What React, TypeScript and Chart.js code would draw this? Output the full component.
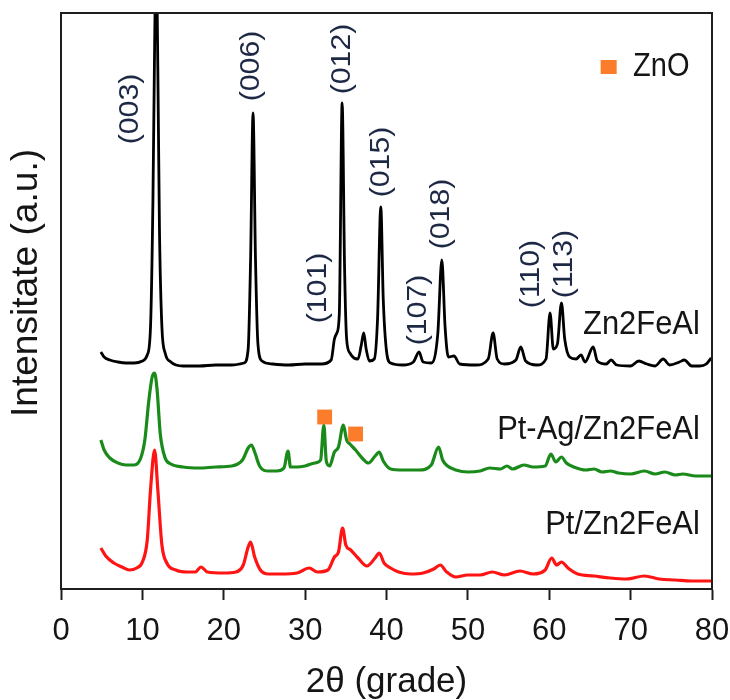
import React, { useEffect, useRef } from "react";
import { Chart, registerables } from "chart.js";

Chart.register(...registerables);

// 2θ (degrees) and intensity (a.u.), per pattern
const zn2FeAlPattern: [number, number][] = [
  [4.9, 237], [5.3, 232], [6, 229], [7, 227], [8, 226], [9, 226], [10, 228], [10.6, 234],
  [11.0, 262], [11.3, 390], [11.5, 540], [11.7, 640], [11.9, 520], [12.1, 360], [12.4, 262],
  [12.8, 236], [13.5, 227], [15, 223], [17, 223], [19, 224], [21, 224], [22.5, 226],
  [23.0, 240], [23.3, 330], [23.6, 476], [23.9, 330], [24.2, 245], [24.7, 228], [26, 225],
  [28, 224], [30, 225], [32, 225], [33.2, 229], [33.6, 250], [33.9, 256], [34.2, 275],
  [34.55, 486], [34.85, 320], [35.1, 250], [35.5, 236], [36.0, 231], [36.5, 230], [36.9, 244],
  [37.2, 256], [37.5, 240], [37.9, 228], [38.5, 230], [38.9, 270], [39.3, 382], [39.6, 290],
  [40.0, 238], [40.5, 226], [42, 224], [43.3, 227], [44.0, 237], [44.5, 227], [45.5, 226],
  [46.3, 255], [46.8, 329], [47.2, 262], [47.6, 232], [48.3, 233], [49, 225], [51, 224],
  [52.5, 230], [53.1, 256], [53.6, 230], [54.5, 225], [55.9, 229], [56.5, 242], [57.1, 228],
  [58.5, 224], [59.6, 230], [60.1, 276], [60.5, 240], [61.0, 245], [61.5, 286], [61.9, 250],
  [62.5, 232], [63.3, 230], [63.9, 234], [64.4, 227], [65.4, 242], [65.9, 228], [67.0, 225],
  [67.6, 229], [68.3, 224], [70, 223], [71.0, 228], [72, 225], [73, 223], [74.0, 230],
  [74.8, 224], [76.0, 227], [76.6, 229], [77.5, 223], [78.5, 223], [79.3, 225], [79.9, 231],
];

const ptAgPattern: [number, number][] = [
  [4.9, 149], [5.3, 139], [6.0, 131], [7.0, 126], [8.0, 124], [9.0, 124], [9.8, 131],
  [10.3, 149], [10.8, 189], [11.2, 212], [11.5, 216], [11.8, 200], [12.2, 155], [12.8, 131],
  [13.5, 125], [15, 122], [17, 121], [19, 122], [21, 123], [22.3, 129], [23.0, 141],
  [23.4, 144], [23.8, 137], [24.4, 123], [25.5, 118], [26.5, 118], [27.4, 121], [27.9, 138],
  [28.2, 122], [29, 122], [30, 123], [31.2, 126], [31.9, 129], [32.3, 164], [32.6, 128],
  [33.0, 123], [33.6, 137], [34.1, 142], [34.7, 164], [35.1, 149], [35.5, 145], [36.2, 139],
  [37.0, 131], [37.8, 126], [38.6, 133], [39.1, 137], [39.6, 128], [40.5, 120], [42, 119],
  [44, 119], [45.5, 124], [46.4, 142], [46.9, 129], [47.5, 123], [48.5, 119], [50, 117],
  [51.5, 118], [52.7, 121], [54, 120], [54.8, 123], [55.5, 120], [56.9, 124], [58, 122],
  [59.5, 123], [60.2, 135], [60.8, 127], [61.5, 132], [62.1, 126], [63, 122], [64.5, 119],
  [65.5, 120], [66.5, 117], [67.5, 118], [68.5, 116], [70, 115], [71.7, 118], [73, 115],
  [74.2, 117], [75.5, 114], [76.4, 115], [78, 113], [79.9, 113],
];

const ptPattern: [number, number][] = [
  [4.9, 41], [5.5, 33], [6.5, 26], [7.5, 22], [8.4, 19], [9.3, 21], [10.0, 27], [10.6, 49],
  [11.0, 99], [11.5, 139], [11.9, 99], [12.4, 44], [13.0, 26], [14.1, 19], [15.5, 17],
  [16.5, 17], [17.2, 22], [18, 17], [20, 16], [21.5, 17], [22.4, 24], [23.0, 42], [23.3, 47],
  [23.8, 32], [24.5, 19], [25.5, 15], [27, 15], [29, 16], [30.5, 21], [31.5, 17], [32.8, 19],
  [33.6, 32], [34.1, 37], [34.6, 61], [35.0, 44], [35.6, 39], [36.5, 31], [37.6, 23],
  [38.6, 31], [39.1, 36], [39.7, 26], [40.5, 21], [41.5, 17], [43, 15], [44.5, 16],
  [45.8, 20], [46.6, 24], [47.4, 17], [48.5, 12], [50, 14], [51.5, 14], [53.0, 17],
  [54.5, 14], [56.4, 18], [58, 15], [59.5, 19], [60.3, 31], [60.9, 24], [61.5, 27],
  [62.3, 21], [63.5, 15], [65.5, 13], [67.5, 11], [69.5, 10], [71.7, 13], [73.5, 10],
  [75.5, 9], [77.5, 8], [79.9, 8],
];

// ZnO reflections marked on the Pt-Ag/Zn2FeAl pattern
const znoMarkTheta = [32.4, 36.2];
const znoMarkLevel = [172, 155];

// Miller-index labels (rotated) above the Zn2FeAl peaks
const peakLabels = ["(003)", "(006)", "(012)", "(015)", "(101)", "(107)", "(018)", "(110)", "(113)"];
const peakLabelTheta = [8.5, 23.4, 34.6, 39.4, 31.6, 43.9, 46.8, 57.8, 61.9];
const peakLabelLevel = [480, 523, 530, 427, 301, 279, 375, 315, 325];

// Sample names, right-aligned next to each pattern
const sampleNames = ["Zn2FeAl", "Pt-Ag/Zn2FeAl", "Pt/Zn2FeAl"];
const sampleNameLevel = [264, 159, 64];

const xTicks = [0, 10, 20, 30, 40, 50, 60, 70, 80];

const FONT = '"Liberation Sans", Arial, sans-serif';
const AXIS_COLOR = "#1e1e1e";
const TEXT_COLOR = "#151515";
const LABEL_COLOR = "#1d2844";
const ORANGE = "#fb7d2c";
const STRETCH = 1.12;

const textPlugin = {
  id: "xrdText",
  afterDatasetsDraw(chart: any) {
    const { ctx, chartArea, scales } = chart;
    const xs = scales.x;
    const ys = scales.y;
    ctx.save();
    // top and right frame
    ctx.strokeStyle = AXIS_COLOR;
    ctx.lineWidth = 2;
    ctx.beginPath();
    ctx.moveTo(chartArea.left, chartArea.top);
    ctx.lineTo(chartArea.right, chartArea.top);
    ctx.lineTo(chartArea.right, chartArea.bottom);
    ctx.stroke();

    // peak labels (rotated)
    ctx.font = `27px ${FONT}`;
    ctx.fillStyle = LABEL_COLOR;
    ctx.textAlign = "center";
    ctx.textBaseline = "middle";
    peakLabels.forEach((t, i) => {
      const px = xs.getPixelForValue(peakLabelTheta[i]);
      const py = ys.getPixelForValue(peakLabelLevel[i]);
      ctx.save();
      ctx.translate(px, py);
      ctx.rotate(-Math.PI / 2);
      ctx.scale(STRETCH, 1);
      ctx.fillText(t, 0, 0);
      ctx.restore();
    });

    // sample names
    ctx.font = `30px ${FONT}`;
    ctx.fillStyle = TEXT_COLOR;
    ctx.textAlign = "right";
    sampleNames.forEach((t, i) => {
      ctx.save();
      ctx.translate(xs.getPixelForValue(78.5), ys.getPixelForValue(sampleNameLevel[i]));
      ctx.scale(1.03, STRETCH);
      ctx.fillText(t, 0, 0);
      ctx.restore();
    });

    // legend
    const lx = xs.getPixelForValue(67.3);
    const ly = ys.getPixelForValue(522);
    ctx.fillStyle = ORANGE;
    ctx.fillRect(lx - 8, ly - 7, 16, 14);
    ctx.fillStyle = TEXT_COLOR;
    ctx.font = `29px ${FONT}`;
    ctx.textAlign = "left";
    ctx.save();
    ctx.translate(xs.getPixelForValue(70.3), ly);
    ctx.scale(1, STRETCH);
    ctx.fillText("ZnO", 0, 0);
    ctx.restore();

    // y-axis title
    ctx.font = `35px ${FONT}`;
    ctx.textAlign = "center";
    ctx.save();
    ctx.translate(27, (chartArea.top + chartArea.bottom) / 2 - 18);
    ctx.rotate(-Math.PI / 2);
    ctx.scale(1.06, 1.05);
    ctx.fillText("Intensitate (a.u.)", 0, 0);
    ctx.restore();
    ctx.restore();
  },
};

export default function App() {
  const canvasRef = useRef<HTMLCanvasElement | null>(null);

  useEffect(() => {
    const canvas = canvasRef.current;
    if (!canvas) return;
    const toPts = (p: [number, number][]) => p.map(([x, y]) => ({ x, y }));
    const chart = new Chart(canvas, {
      type: "scatter",
      data: {
        datasets: [
          {
            label: "ZnO",
            data: znoMarkTheta.map((x, i) => ({ x, y: znoMarkLevel[i] })),
            showLine: false,
            pointStyle: "rect",
            pointRadius: 10.5,
            pointBackgroundColor: ORANGE,
            pointBorderWidth: 0,
            order: 0,
          },
          {
            label: "Zn2FeAl",
            data: toPts(zn2FeAlPattern),
            showLine: true,
            borderColor: "#000000",
            borderWidth: 2.8,
            pointRadius: 0,
            cubicInterpolationMode: "monotone",
            order: 1,
          },
          {
            label: "Pt-Ag/Zn2FeAl",
            data: toPts(ptAgPattern),
            showLine: true,
            borderColor: "#1a8a1a",
            borderWidth: 3.2,
            pointRadius: 0,
            cubicInterpolationMode: "monotone",
            order: 2,
          },
          {
            label: "Pt/Zn2FeAl",
            data: toPts(ptPattern),
            showLine: true,
            borderColor: "#ff1414",
            borderWidth: 3.2,
            pointRadius: 0,
            cubicInterpolationMode: "monotone",
            order: 3,
          },
        ],
      },
      options: {
        responsive: false,
        animation: false,
        layout: { padding: { top: 13, right: 18, left: 0, bottom: 0 } },
        plugins: { legend: { display: false }, tooltip: { enabled: false } },
        scales: {
          x: {
            type: "linear",
            min: 0,
            max: 80,
            afterBuildTicks: (s: any) => {
              s.ticks = xTicks.map((v) => ({ value: v }));
            },
            afterFit: (s: any) => {
              s.height = 111;
              s.paddingLeft = 0;
              s.paddingRight = 0;
            },
            ticks: {
              font: { size: 31, family: FONT },
              color: TEXT_COLOR,
              padding: 13,
              maxRotation: 0,
            },
            grid: {
              display: true,
              drawOnChartArea: false,
              drawTicks: true,
              tickLength: 11,
              tickWidth: 2,
              tickColor: AXIS_COLOR,
            },
            border: { display: true, color: AXIS_COLOR, width: 2 },
            title: {
              display: true,
              text: "2θ (grade)",
              font: { size: 35, family: FONT, lineHeight: 1 },
              color: TEXT_COLOR,
              padding: { top: 0, bottom: 0 },
            },
          },
          y: {
            type: "linear",
            min: 0,
            max: 576,
            afterFit: (s: any) => {
              s.width = 61;
              s.paddingTop = 0;
              s.paddingBottom = 0;
            },
            ticks: { display: false },
            grid: { display: true, drawOnChartArea: false, drawTicks: false },
            border: { display: true, color: AXIS_COLOR, width: 2 },
          },
        },
      },
      plugins: [textPlugin],
    });
    return () => chart.destroy();
  }, []);

  return (
    <div style={{ position: "fixed", left: 0, top: 0, width: 730, height: 700, background: "#fff" }}>
      <canvas ref={canvasRef} width={730} height={700} style={{ display: "block" }} />
    </div>
  );
}
